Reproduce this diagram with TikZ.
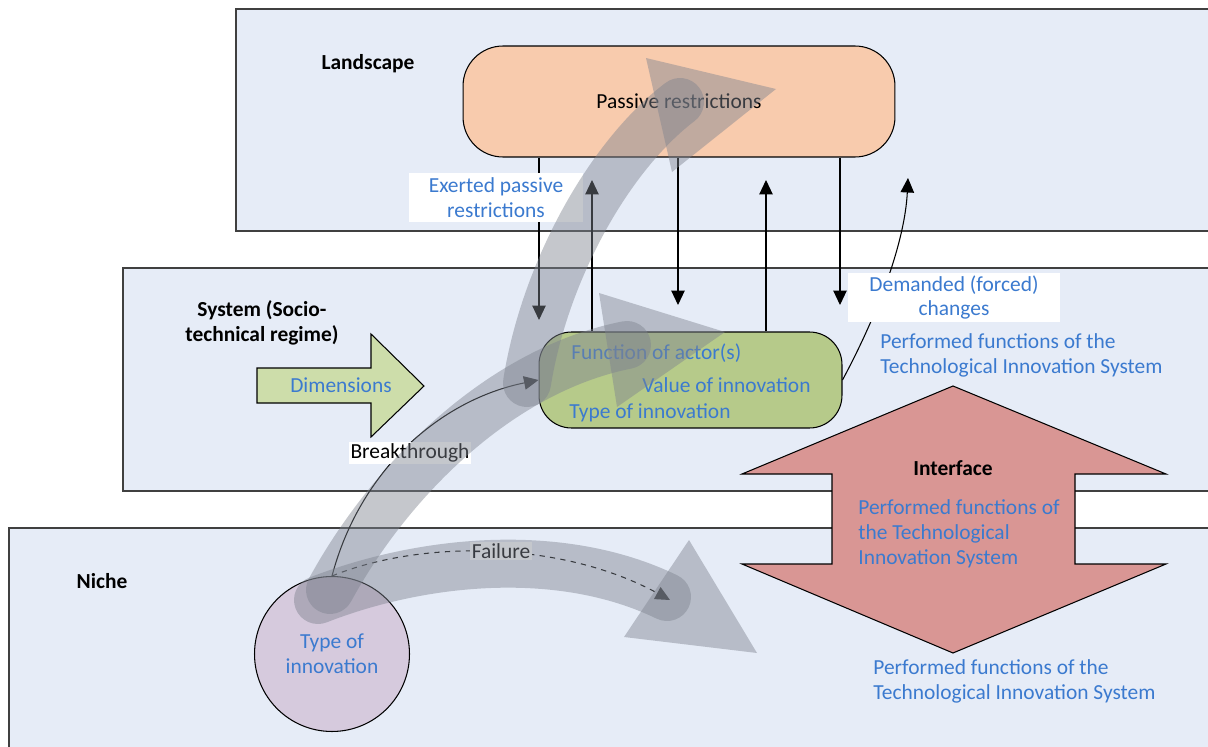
\documentclass[tikz,border=0pt]{standalone}
\usepackage{fontspec}
\setmainfont{Carlito}
\usepackage{xcolor}
\usepackage{tikz}
\usetikzlibrary{arrows.meta}

\definecolor{panelblue}{RGB}{230,236,247}
\definecolor{peach}{RGB}{248,203,173}
\definecolor{regimegreen}{RGB}{182,202,138}
\definecolor{dimgreen}{RGB}{205,221,170}
\definecolor{ifacered}{RGB}{217,150,148}
\definecolor{nichepurple}{RGB}{214,202,221}
\definecolor{txtblue}{RGB}{59,122,207}
\definecolor{bandgrey}{RGB}{126,131,143}

\newcommand\txtsize{\fontsize{12.2}{14.2}\selectfont}

\begin{document}
\begin{tikzpicture}[x=0.02cm,y=-0.02cm,
  every node/.style={font=\txtsize},
  panel/.style={fill=panelblue,draw=black!75,line width=0.6pt},
  head/.style={font=\txtsize\bfseries,inner sep=0pt,align=center},
  bluetxt/.style={text=txtblue,inner sep=0pt,align=left},
  tag/.style={fill=white,text=txtblue,inner sep=0pt,align=center,minimum height=0.98cm},
  arr/.style={-{Triangle[width=0.27cm,length=0.29cm]},line width=0.6pt},
  band/.style={draw=bandgrey,draw opacity=0.45,line width=0.96cm,line cap=round},
  bandhead/.style={fill=bandgrey,fill opacity=0.45}]
\useasboundingbox (0,0) rectangle (1208,747);

% the three levels
\draw[panel] (236,9) rectangle (1216,231);
\draw[panel] (123,268) rectangle (1216,491);
\draw[panel] (9,528) rectangle (1216,752);
\node[head] (lscape) at (368,64) {Landscape};
\node[head] (sysname) at (262,323) {System (Socio-\\technical regime)};
\node[head] (nichename) at (102,581) {Niche};

% interface and dimensions
\draw[fill=ifacered,line width=0.6pt] (953,386) -- (1166,474) -- (1075,474) -- (1075,564) -- (1166,564)
  -- (953,653) -- (742,564) -- (832,564) -- (832,474) -- (742,474) -- cycle;
\node[head] (iface) at (953,468) {Interface};
\node[bluetxt,anchor=west] (ifacetxt) at (858,534) {Performed functions of\\the Technological\\Innovation System};
\draw[fill=dimgreen,line width=0.6pt] (257,368) -- (371,368) -- (371,334) -- (424,386) -- (371,437) -- (371,403) -- (257,403) -- cycle;
\node[text=txtblue] (dims) at (341,385) {Dimensions};

% boxes
\node[draw,line width=0.6pt,fill=peach,rounded corners=0.8cm,minimum width=8.64cm,minimum height=2.22cm] (passive) at (679,101.5) {Passive restrictions};
\node[draw,line width=0.6pt,fill=regimegreen,rounded corners=0.65cm,minimum width=6.06cm,minimum height=1.92cm] (regime) at (690.5,380) {};
\node[bluetxt,anchor=west] (func) at (571,353) {Function of actor(s)};
\node[bluetxt,anchor=west] (value) at (642,385) {Value of innovation};
\node[bluetxt,anchor=west] (type) at (569,413) {Type of innovation};
\node[draw,line width=0.6pt,fill=nichepurple,circle,minimum size=3.1cm,text=txtblue,align=center] (tis) at (332,654) {Type of\\innovation};

% arrows between landscape and regime
\foreach\x/\y[count=\i] in {539/320,678/305,840/305}{
  \coordinate (down\i) at (\x,\y);
  \draw[arr] (passive.south -| down\i) -- (down\i);
}
\foreach\x[count=\i] in {592,766}{
  \coordinate (up\i) at (\x,180);
  \draw[arr] (regime.north -| up\i) -- (up\i);
}
\coordinate (demand) at (908,178);
\draw[arr] (regime.east) .. controls (880,310) and (905,240) .. (demand);
\coordinate (fail) at (670,600);
\draw[arr] (tis.north) .. controls (360,470) and (440,400) .. (regime.west);
\draw[arr,dashed] (tis.north) .. controls (420,540) and (560,540) .. (fail);

% labels
\node[tag,minimum width=3.48cm] (exerted) at (496,197.5) {Exerted passive\\restrictions};
\node[tag,minimum width=4.24cm] (demanded) at (954,297.5) {Demanded (forced)\\changes};
\node[bluetxt,anchor=west] (perf1) at (880,355.5) {Performed functions of the\\Technological Innovation System};
\node[bluetxt,anchor=west] (perf2) at (873,681.5) {Performed functions of the\\Technological Innovation System};
\node[fill=white,inner sep=1pt] (brk) at (410,453) {Breakthrough};
\node[fill=white,inner sep=1pt] (flr) at (501,551) {Failure};

% grey transition paths
\draw[band] (330,590) .. controls (390,480) and (500,370) .. (627,345);
\fill[bandhead] (599,293) -- (725,332) -- (617,407) -- cycle;
\draw[band] (527,383) .. controls (545,270) and (610,155) .. (680,102);
\fill[bandhead] (646,58) -- (776,89) -- (672,172) -- cycle;
\draw[band] (318,600) .. controls (420,560) and (560,545) .. (667,597);
\fill[bandhead] (689,540) -- (757,653) -- (624,637) -- cycle;
\end{tikzpicture}
\end{document}
